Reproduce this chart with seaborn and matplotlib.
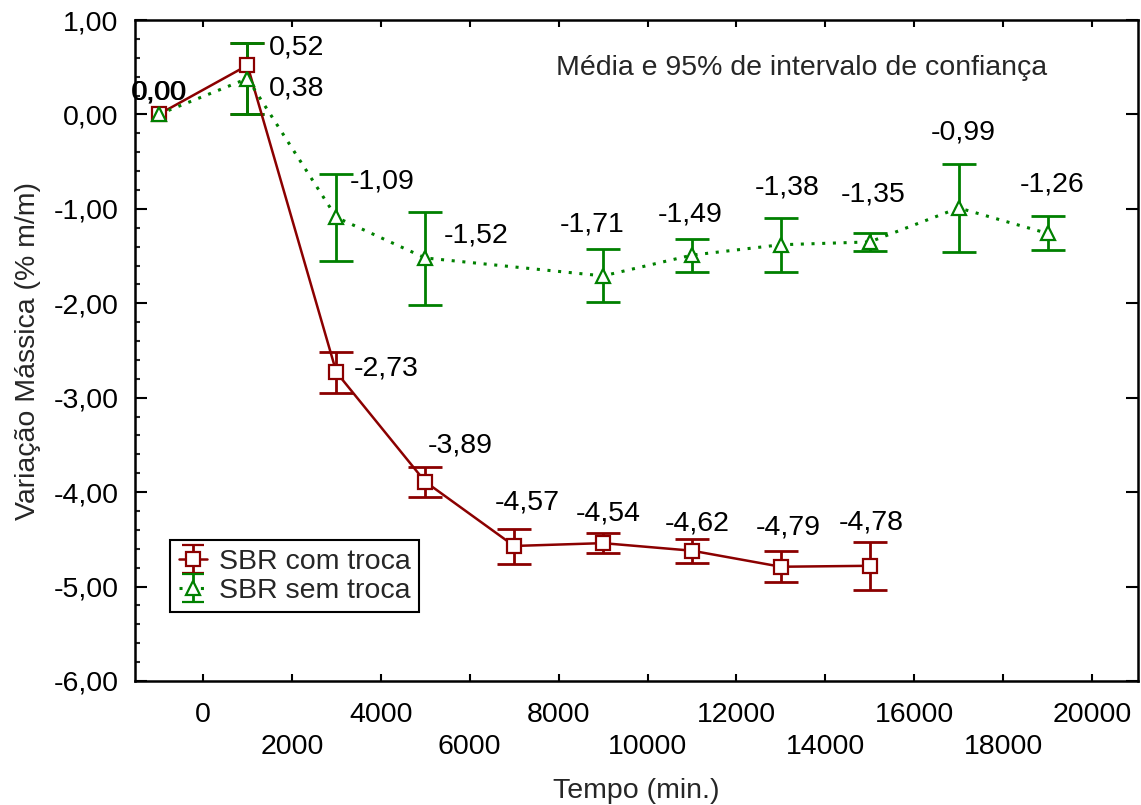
import numpy as np
import pandas as pd
import matplotlib
matplotlib.use("Agg")
import matplotlib.pyplot as plt
from matplotlib.ticker import MultipleLocator, FuncFormatter
import seaborn as sns

# ---------------- data ----------------
tempo_com = [-1000, 1000, 3000, 5000, 7000, 9000, 11000, 13000, 15000]
media_com = [0.00, 0.52, -2.73, -3.89, -4.57, -4.54, -4.62, -4.79, -4.78]
ic_sup_com = [0.00, 0.76, -2.52, -3.73, -4.39, -4.43, -4.50, -4.62, -4.53]
ic_inf_com = [0.00, 0.00, -2.95, -4.05, -4.76, -4.64, -4.75, -4.95, -5.04]

tempo_sem = [-1000, 1000, 3000, 5000, 9000, 11000, 13000, 15000, 17000, 19000]
media_sem = [0.00, 0.38, -1.09, -1.52, -1.71, -1.49, -1.38, -1.35, -0.99, -1.26]
ic_sup_sem = [0.00, 0.76, -0.63, -1.03, -1.43, -1.32, -1.10, -1.26, -0.52, -1.08]
ic_inf_sem = [0.00, 0.00, -1.55, -2.02, -1.99, -1.67, -1.67, -1.45, -1.46, -1.44]

serie_nomes = ["SBR com troca", "SBR sem troca"]
x_ticks = list(range(0, 20001, 2000))
y_ticks = [1, 0, -1, -2, -3, -4, -5, -6]

# ---------------- layout / style ----------------
RED = "#8B0000"
GREEN = "#008000"
FONT = "Liberation Sans"
FS = 20.5

# label offsets in pixels (dx, dy, ha)
off_com = [(1, 22, "center"), (21, 18, "left"), (17, 4, "left"), (2, 36, "left"),
           (-19, 43, "left"), (5, 30, "center"), (5, 27, "center"), (7, 39, "center"),
           (2, 43, "center")]
off_sem = [(0, 22, "center"), (21, -10, "left"), (13, 36, "left"), (18, 22, "left"),
           (-11, 51, "center"), (-2, 41, "center"), (6, 57, "center"), (3, 47, "center"),
           (5, 75, "center"), (5, 49, "center")]

sns.set_style("white")
plt.rcParams["font.family"] = [FONT, "DejaVu Sans"]

fig = plt.figure(figsize=(11.41, 8.05), dpi=100)
W, H = 1141, 805
ax = fig.add_axes([135 / W, 1 - 681 / H, (1138 - 135) / W, (681 - 20) / H])

df_com = pd.DataFrame({"tempo": tempo_com, "media": media_com})
df_sem = pd.DataFrame({"tempo": tempo_sem, "media": media_sem})


def draw_err(x, m, lo, hi, color):
    x = np.asarray(x, float)
    m = np.asarray(m, float)
    lo = np.asarray(lo, float)
    hi = np.asarray(hi, float)
    mask = (hi - lo) > 0
    ax.errorbar(x[mask], m[mask], yerr=[m[mask] - lo[mask], hi[mask] - m[mask]],
                fmt="none", ecolor=color, elinewidth=2.0, capsize=12, capthick=2.0,
                zorder=2)


# red series
draw_err(tempo_com, media_com, ic_inf_com, ic_sup_com, RED)
sns.lineplot(data=df_com, x="tempo", y="media", ax=ax, color=RED, linewidth=1.8,
             marker="s", markersize=10, markerfacecolor="white", markeredgecolor=RED,
             markeredgewidth=1.6, errorbar=None, legend=False, zorder=3)
# green series
draw_err(tempo_sem, media_sem, ic_inf_sem, ic_sup_sem, GREEN)
sns.lineplot(data=df_sem, x="tempo", y="media", ax=ax, color=GREEN, linewidth=2.2,
             linestyle=(0, (1, 2.5)),
             marker="^", markersize=10, markerfacecolor="white", markeredgecolor=GREEN,
             markeredgewidth=1.6, errorbar=None, legend=False, zorder=4)


def fmt(v):
    return f"{v:.2f}".replace(".", ",").replace("-0,00", "0,00")


for x, v, (dx, dy, ha) in zip(tempo_com, media_com, off_com):
    ax.annotate(fmt(v), (x, v), xytext=(dx, dy), textcoords="offset pixels",
                ha=ha, va="center", fontsize=FS, color="black", zorder=6)
for x, v, (dx, dy, ha) in zip(tempo_sem, media_sem, off_sem):
    ax.annotate(fmt(v), (x, v), xytext=(dx, dy), textcoords="offset pixels",
                ha=ha, va="center", fontsize=FS, color="black", zorder=6)

# legend proxies (drawn off-screen)
h1 = ax.errorbar([-1e7], [0], yerr=[[1], [1]], fmt="s-", color=RED, ecolor=RED,
                 markerfacecolor="white", markeredgecolor=RED, markersize=10,
                 markeredgewidth=1.6, linewidth=1.8, elinewidth=2, capsize=8, capthick=2,
                 label=serie_nomes[0])
h2 = ax.errorbar([-1e7], [0], yerr=[[1], [1]], fmt="^", linestyle=(0, (1, 2.5)),
                 color=GREEN, ecolor=GREEN,
                 markerfacecolor="white", markeredgecolor=GREEN, markersize=10,
                 markeredgewidth=1.6, linewidth=2.2, elinewidth=2, capsize=8, capthick=2,
                 label=serie_nomes[1])

ax.set_xlim(-1530, 21035)
ax.set_ylim(-6, 1)

# ticks
ax.set_xticks(x_ticks)
ax.set_xticklabels([str(t) if i % 2 == 0 else "\n" + str(t) for i, t in enumerate(x_ticks)],
                   linespacing=1.3)
ax.set_yticks(y_ticks)
ax.yaxis.set_major_formatter(FuncFormatter(lambda v, p: f"{v:.2f}".replace(".", ",")))
ax.yaxis.set_minor_locator(MultipleLocator(0.2))

ax.tick_params(axis="both", which="major", direction="in", width=1.5, labelsize=FS,
               colors="black")
ax.tick_params(axis="y", which="major", length=8.6, pad=12, right=True, left=True)
ax.tick_params(axis="y", which="minor", direction="in", length=3.3, width=1.5,
               left=True, right=False)
ax.tick_params(axis="x", which="major", length=5, pad=15, top=True, bottom=True)

for s in ax.spines.values():
    s.set_color("black")
    s.set_linewidth(1.8)
    s.set_visible(True)

ax.set_xlabel("Tempo (min.)", fontsize=FS, labelpad=13)
ax.set_ylabel("Variação Mássica (% m/m)", fontsize=FS, labelpad=9)

ax.text(0.909, 0.927, "Média e 95% de intervalo de confiança", transform=ax.transAxes,
        ha="right", va="center", fontsize=FS)

leg = ax.legend(handles=[h1, h2], loc="lower left", bbox_to_anchor=(0.035, 0.104),
                borderaxespad=0, fontsize=FS, frameon=True, fancybox=False,
                edgecolor="black", framealpha=1, handlelength=1.0, handletextpad=0.4,
                labelspacing=0.1, borderpad=0.3)
leg.get_frame().set_linewidth(1.5)

fig.savefig("out.png", dpi=100, facecolor="white")
